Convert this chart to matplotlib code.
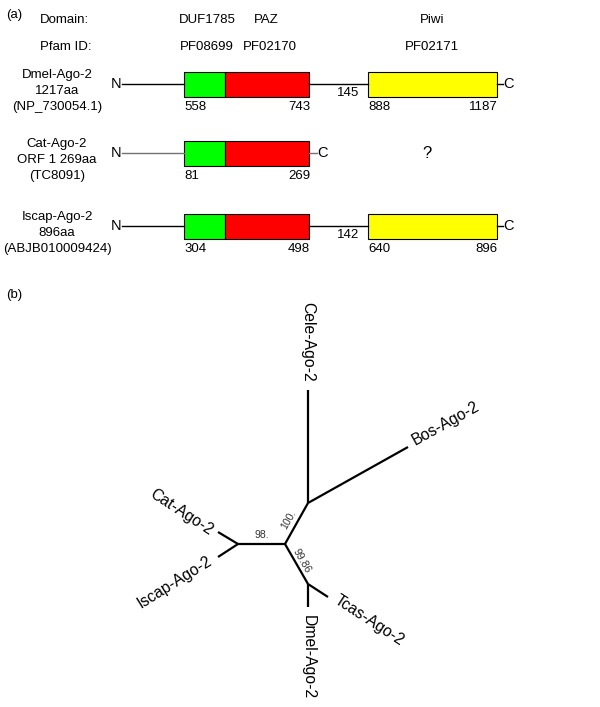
import matplotlib.pyplot as plt
from matplotlib.patches import Rectangle

plt.rcParams['font.family'] = ['Liberation Sans', 'DejaVu Sans']

# panel (a) data
domain_names = ['DUF1785', 'PAZ', 'Piwi']
pfam_ids = ['PF08699', 'PF02170', 'PF02171']
proteins = [
    ['Dmel-Ago-2', '1217aa', '(NP_730054.1)'],
    ['Cat-Ago-2', 'ORF 1 269aa', '(TC8091)'],
    ['Iscap-Ago-2', '896aa', '(ABJB010009424)'],
]
paz_start = ['558', '81', '304']
paz_end = ['743', '269', '498']
linker = ['145', None, '142']
piwi_start = ['888', None, '640']
piwi_end = ['1187', None, '896']

# panel (b) tree: node positions (pixels) and edges
nodes = {
    'center': (285, 544), 'left': (238, 544), 'top': (308, 503), 'low': (308, 584),
    'Cele': (308, 390), 'Bos': (408, 447), 'Cat': (218, 532), 'Iscap': (218, 557),
    'Tcas': (328, 597), 'Dmel': (308, 607),
}
edges = [('center', 'left'), ('center', 'top'), ('center', 'low'),
         ('top', 'Cele'), ('top', 'Bos'), ('left', 'Cat'), ('left', 'Iscap'),
         ('low', 'Tcas'), ('low', 'Dmel')]
leaf_labels = {
    'Cele': ('Cele-Ago-2', 308, 342, -90),
    'Bos': ('Bos-Ago-2', 446, 423, 29),
    'Cat': ('Cat-Ago-2', 181, 512, -33),
    'Iscap': ('Iscap-Ago-2', 175, 582, 32),
    'Tcas': ('Tcas-Ago-2', 369, 620, -33),
    'Dmel': ('Dmel-Ago-2', 308, 657, -90),
}
bootstrap = [('100.', 289, 520, 60), ('98.', 262, 535, 0), ('99.86', 302, 561, -60)]

fig = plt.figure(figsize=(6.0, 7.07), dpi=100)
ax = fig.add_axes([0, 0, 1, 1])
ax.set_xlim(0, 600)
ax.set_ylim(707, 0)
ax.axis('off')

fs = 9.5


def txt(x, y, s, **kw):
    kw.setdefault('fontsize', fs)
    kw.setdefault('ha', 'center')
    kw.setdefault('va', 'center')
    ax.text(x, y, s, **kw)


txt(14, 15, '(a)')
txt(40, 20, 'Domain:', ha='left')
txt(40, 47, 'Pfam ID:', ha='left')
for name, pid, x, x2 in zip(domain_names, pfam_ids, [207, 266, 432], [207, 270, 432]):
    txt(x, 20, name)
    txt(x2, 47, pid)

row_y = [84, 153, 226]
gx0, gx1, rx1, yx0, yx1 = 184, 225, 309, 368, 497
bh = 25
for i, y in enumerate(row_y):
    for j, line in enumerate(proteins[i]):
        txt(57, y - 9 + 16 * j, line)
    lc = '0.45' if i == 1 else 'k'
    txt(116, y, 'N', fontsize=10.5)
    ax.plot([122, gx0], [y, y], color=lc, lw=1)
    ax.add_patch(Rectangle((gx0, y - bh / 2), gx1 - gx0, bh, fc='#00ff00', ec='k', lw=0.8))
    ax.add_patch(Rectangle((gx1, y - bh / 2), rx1 - gx1, bh, fc='#ff0000', ec='k', lw=0.8))
    txt(gx0, y + 23, paz_start[i], ha='left')
    txt(rx1 + 1, y + 23, paz_end[i], ha='right')
    if piwi_start[i] is None:
        ax.plot([rx1, rx1 + 8], [y, y], color='0.45', lw=1)
        txt(322, y, 'C', fontsize=10.5)
        txt(427, y, '?', fontsize=12)
        continue
    ax.plot([rx1, yx0], [y, y], color='k', lw=1)
    ax.add_patch(Rectangle((yx0, y - bh / 2), yx1 - yx0, bh, fc='#ffff00', ec='k', lw=0.8))
    ax.plot([yx1, yx1 + 6], [y, y], color='k', lw=1)
    txt(508, y, 'C', fontsize=10.5)
    txt(348, y + 9, linker[i])
    txt(yx0, y + 23, piwi_start[i], ha='left')
    txt(yx1 + 1, y + 23, piwi_end[i], ha='right')

txt(14, 295, '(b)')
for a, b in edges:
    ax.plot([nodes[a][0], nodes[b][0]], [nodes[a][1], nodes[b][1]], color='k', lw=1.6,
            solid_capstyle='butt')
for key, (lab, x, y, rot) in leaf_labels.items():
    ax.text(x, y, lab, fontsize=11.3, ha='center', va='center', rotation=rot,
            rotation_mode='anchor')
for lab, x, y, rot in bootstrap:
    ax.text(x, y, lab, fontsize=7.5, ha='center', va='center', rotation=rot,
            rotation_mode='anchor', color='0.2')

fig.savefig('out.png', dpi=100)
